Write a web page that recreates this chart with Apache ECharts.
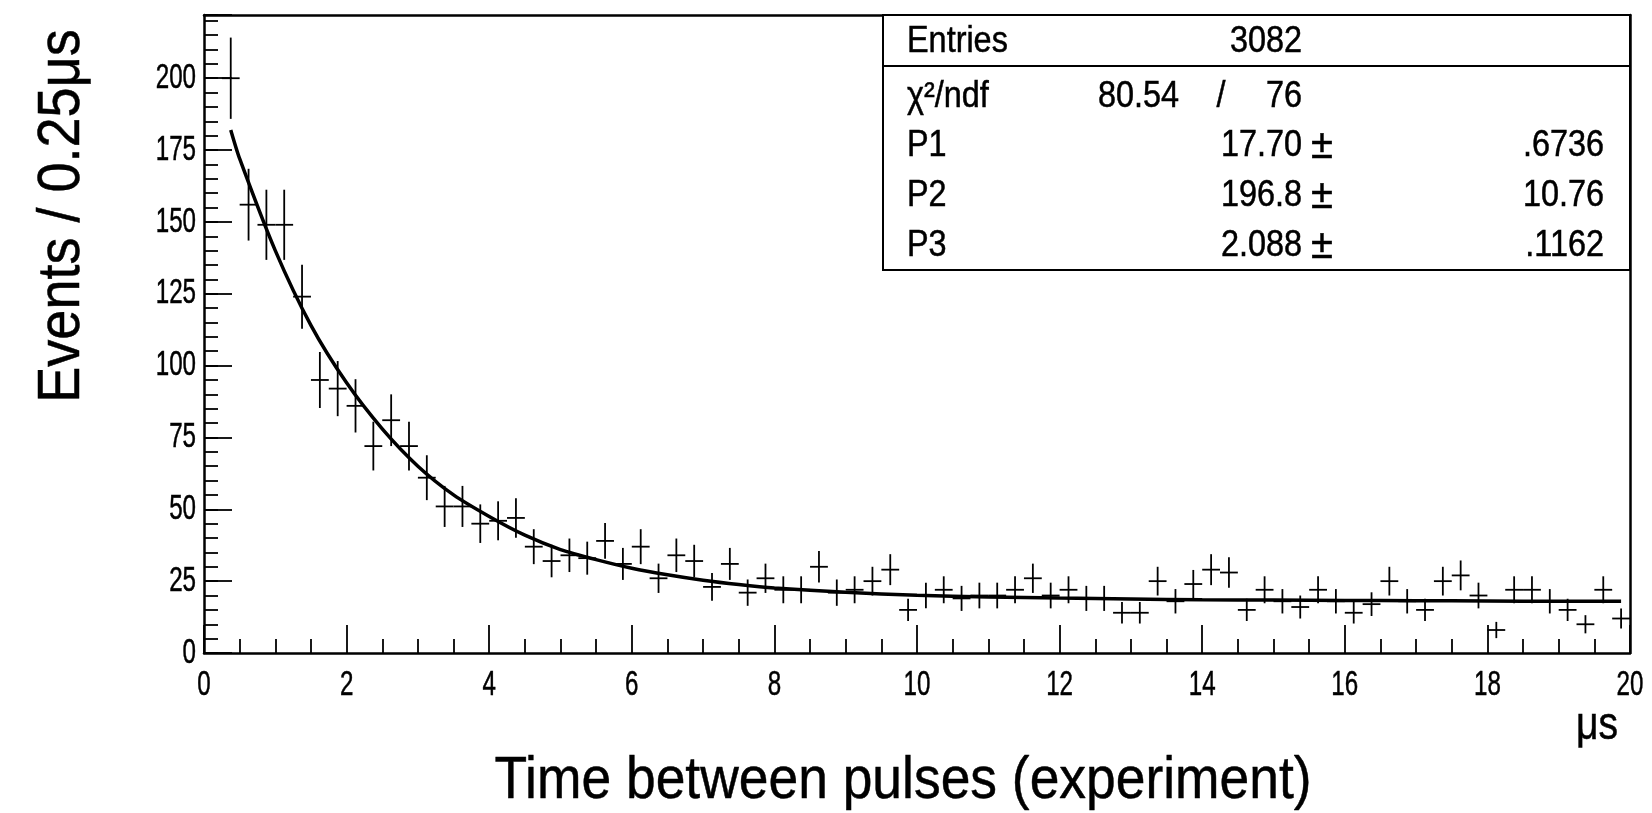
<!DOCTYPE html>
<html><head><meta charset="utf-8">
<script src="https://cdn.jsdelivr.net/npm/echarts@6/dist/echarts.min.js"></script>
<style>html,body{margin:0;padding:0;background:#fff}#c{width:1652px;height:813px}</style>
</head><body><div id="c"></div>
<script>
// ---- data ----
const binWidth = 0.25;
const binCenters = [0.375,0.625,0.875,1.125,1.375,1.625,1.875,2.125,2.375,2.625,2.875,3.125,3.375,3.625,3.875,4.125,4.375,4.625,4.875,5.125,5.375,5.625,5.875,6.125,6.375,6.625,6.875,7.125,7.375,7.625,7.875,8.125,8.375,8.625,8.875,9.125,9.375,9.625,9.875,10.125,10.375,10.625,10.875,11.125,11.375,11.625,11.875,12.125,12.375,12.625,12.875,13.125,13.375,13.625,13.875,14.125,14.375,14.625,14.875,15.125,15.375,15.625,15.875,16.125,16.375,16.625,16.875,17.125,17.375,17.625,17.875,18.125,18.375,18.625,18.875,19.125,19.375,19.625,19.875];
const counts = [200,156,149,149,124,95,92,86,72,81,
  72,61,51,51,45,46,47,37,32,34,
  33,39,31,37,26,34,32,23,31,21,
  26,22,22,30,21,22,25,29,15,20,
  22,19,20,20,22,26,20,22,19,19,
  14,14,25,18,24,29,28,15,22,18,
  16,22,18,14,17,25,18,15,25,27,
  20,8,22,22,18,15,10,22,12];
const fitX = [0.375,0.5,1.0,1.5,2.0,2.5,3.0,3.5,4.0,4.5,5.0,5.5,6.0,6.5,7.0,7.5,8.0,9.0,10.0,11.0,12.0,13.0,14.0,15.0,16.0,17.0,18.0,19.0,19.875];
const fitY = [182,172,140,114,94,78,65,55,47.5,41,36,32.5,29.5,27.2,25.3,23.8,22.6,21.1,20.1,19.5,19.1,18.8,18.5,18.4,18.3,18.2,18.1,18.0,18.0];
const xRange = [0, 20];
const yRange = [0, 222];
const xTickLabels = [0, 2, 4, 6, 8, 10, 12, 14, 16, 18, 20];
const yTickLabels = [0, 25, 50, 75, 100, 125, 150, 175, 200];
const statRows = [
  ['Entries', '3082', '', ''],
  ['χ²/ndf', '80.54', '/', '76'],
  ['P1', '17.70', '±', '.6736'],
  ['P2', '196.8', '±', '10.76'],
  ['P3', '2.088', '±', '.1162']
];
const xTitle = 'Time between pulses (experiment)';
const yTitle = 'Events / 0.25μs';
const unitLabel = 'μs';

// ---- chart ----
const FONT = "'Liberation Sans', Arial, Helvetica, sans-serif";
const chart = echarts.init(document.getElementById('c'), null, {renderer: 'canvas'});
const black = '#000';

function txt(s, x, y, align, size, extra) {
  const el = {type: 'text', x: x, y: y, z: 102,
    style: {text: s, fill: black, stroke: black, lineWidth: 0.5, fontSize: size || 33, fontFamily: FONT,
      align: align, verticalAlign: 'middle', textAlign: align, textVerticalAlign: 'middle'}};
  return Object.assign(el, extra || {});
}

const statGraphics = [];
const boxL = 883, boxT = 15, boxR = 1630, boxB = 270, sepY = 66;
statGraphics.push({type: 'rect', shape: {x: boxL, y: boxT, width: boxR - boxL, height: boxB - boxT},
  style: {fill: '#fff', stroke: black, lineWidth: 2}, z: 100});
statGraphics.push({type: 'line', shape: {x1: boxL, y1: sepY, x2: boxR, y2: sepY},
  style: {stroke: black, lineWidth: 2}, z: 101});
const rowY = [42, 97, 146, 196, 246];
const SB = 36, SBX = {scaleX: 0.9};
statRows.forEach((r, i) => {
  const y = rowY[i];
  statGraphics.push(txt(r[0], 907, y, 'left', SB, SBX));
  if (i === 0) {
    statGraphics.push(txt(r[1], 1302, y, 'right', SB, SBX));
  } else if (i === 1) {
    statGraphics.push(txt(r[1], 1179, y, 'right', SB, SBX));
    statGraphics.push(txt(r[2], 1221, y, 'center', SB, SBX));
    statGraphics.push(txt(r[3], 1302, y, 'right', SB, SBX));
  } else {
    statGraphics.push(txt(r[1], 1302, y, 'right', SB, SBX));
    statGraphics.push(txt(r[2], 1311, y + 1, 'left', 40));
    statGraphics.push(txt(r[3], 1604, y, 'right', SB, SBX));
  }
});

const titleGraphics = [
  txt(yTitle, 62, 216, 'center', 60, {rotation: Math.PI / 2, scaleX: 0.9}),
  txt(xTitle, 903, 781, 'center', 60, {scaleX: 0.89}),
  txt(unitLabel, 1597, 726, 'center', 46, {scaleX: 0.85})
];

const points = binCenters.map((x, i) => [x, counts[i]]);
const fit = fitX.map((x, i) => [x, fitY[i]]);

const option = {
  animation: false,
  backgroundColor: '#fff',
  grid: {left: 204, right: 22, top: 15, bottom: 160, containLabel: false},
  xAxis: [
    {type: 'value', position: 'bottom', min: xRange[0], max: xRange[1], interval: 2,
      axisLine: {show: true, lineStyle: {color: black, width: 2.5}},
      axisTick: {show: true, inside: true, length: 28, lineStyle: {color: black, width: 1.8}},
      minorTick: {show: true, splitNumber: 4, length: 14, lineStyle: {color: black, width: 1.8}},
      splitLine: {show: false}, minorSplitLine: {show: false},
      axisLabel: {show: false}},
    {type: 'value', position: 'top', min: xRange[0], max: xRange[1],
      axisLine: {show: true, onZero: false, lineStyle: {color: black, width: 2.5}},
      axisTick: {show: false}, axisLabel: {show: false}, splitLine: {show: false}}
  ],
  yAxis: [
    {type: 'value', position: 'left', min: yRange[0], max: yRange[1], interval: 25,
      axisLine: {show: true, lineStyle: {color: black, width: 2.5}},
      axisTick: {show: true, inside: true, length: 28, lineStyle: {color: black, width: 1.8}},
      splitLine: {show: false}, axisLabel: {show: false}},
    {type: 'value', position: 'left', min: yRange[0], max: yRange[1], interval: 5,
      axisLine: {show: false},
      axisTick: {show: true, inside: true, length: 14, lineStyle: {color: black, width: 1.8}},
      splitLine: {show: false}, axisLabel: {show: false}},
    {type: 'value', position: 'right', min: yRange[0], max: yRange[1],
      axisLine: {show: true, onZero: false, lineStyle: {color: black, width: 2.5}},
      axisTick: {show: false}, axisLabel: {show: false}, splitLine: {show: false}}
  ],
  series: [
    {type: 'custom', xAxisIndex: 0, yAxisIndex: 0, data: points, z: 3,
      renderItem: function (params, api) {
        const x = api.value(0), y = api.value(1);
        const err = Math.sqrt(y);
        const top = api.coord([x, y + err]);
        const bot = api.coord([x, Math.max(0, y - err)]);
        const l = api.coord([x - binWidth / 2, y]);
        const r = api.coord([x + binWidth / 2, y]);
        return {type: 'group', children: [
          {type: 'line', shape: {x1: top[0], y1: top[1], x2: bot[0], y2: bot[1]}, style: {stroke: black, lineWidth: 1.8}},
          {type: 'line', shape: {x1: l[0], y1: l[1], x2: r[0], y2: r[1]}, style: {stroke: black, lineWidth: 1.8}}
        ]};
      }},
    {type: 'line', xAxisIndex: 0, yAxisIndex: 0, data: fit, smooth: 0.25,
      showSymbol: false, symbol: 'none', z: 5,
      lineStyle: {color: black, width: 3.5}}
  ],
  graphic: {elements: statGraphics.concat(titleGraphics)}
};
chart.setOption(option);

// Tick labels: positioned through the chart's own axis scales, drawn condensed like the original
const labelEls = [];
xTickLabels.forEach(v => {
  const p = chart.convertToPixel({gridIndex: 0}, [v, 0]);
  labelEls.push(txt(String(v), p[0], p[1] + 32, 'center', 35, {scaleX: 0.69}));
});
yTickLabels.forEach(v => {
  const p = chart.convertToPixel({gridIndex: 0}, [0, v]);
  labelEls.push(txt(String(v), p[0] - 8, p[1], 'right', 35, {scaleX: 0.69}));
});
chart.setOption({graphic: {elements: statGraphics.concat(titleGraphics, labelEls)}});
</script>
</body></html>
